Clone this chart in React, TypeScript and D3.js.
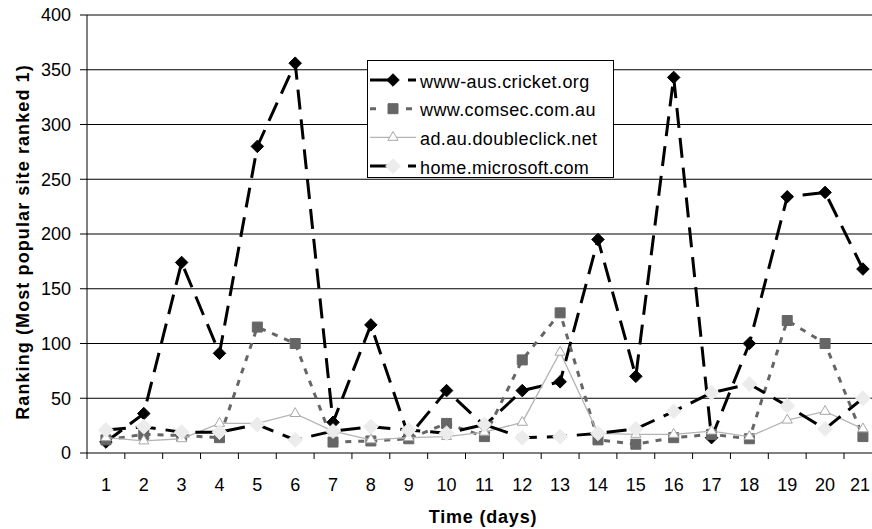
import { useRef, useEffect } from 'react'
import * as d3 from 'd3'

const days = d3.range(1, 22).map(String)

const cricket = [10, 36, 174, 91, 280, 356, 28, 117, 15, 57, 25, 57, 65, 195, 70, 343, 14, 100, 234, 238, 168]
const comsec = [12, 17, 16, 14, 115, 100, 10, 11, 13, 27, 15, 85, 128, 12, 8, 14, 17, 13, 121, 100, 15]
const doubleclick = [14, 11, 13, 27, 27, 36, 20, 12, 14, 15, 19, 28, 92, 18, 17, 17, 20, 15, 30, 38, 22]
const microsoft = [21, 24, 19, 19, 26, 12, 20, 24, 21, 18, 26, 14, 15, 18, 22, 38, 55, 63, 43, 22, 50]

const seriesNames = ['www-aus.cricket.org', 'www.comsec.com.au', 'ad.au.doubleclick.net', 'home.microsoft.com']
const yTicks = [0, 50, 100, 150, 200, 250, 300, 350, 400]

type Style = {
  stroke: string
  width: number
  dash: string
  marker: 'diamond' | 'square' | 'triangle'
  markerFill: string
  markerStroke: string
  markerSize: number
}

const styles: Style[] = [
  { stroke: '#000', width: 3, dash: '20,10', marker: 'diamond', markerFill: '#000', markerStroke: '#000', markerSize: 100 },
  { stroke: '#666', width: 3, dash: '6,7', marker: 'square', markerFill: '#666', markerStroke: '#666', markerSize: 100 },
  { stroke: '#b4b4b4', width: 1.3, dash: '', marker: 'triangle', markerFill: '#fff', markerStroke: '#a8a8a8', markerSize: 45 },
  { stroke: '#000', width: 3, dash: '20,10', marker: 'diamond', markerFill: '#ececec', markerStroke: '#ececec', markerSize: 140 },
]

const symbolType = (m: Style['marker']) =>
  m === 'diamond' ? d3.symbolDiamond2 : m === 'square' ? d3.symbolSquare : d3.symbolTriangle

export default function App() {
  const svgRef = useRef<SVGSVGElement>(null)

  useEffect(() => {
    if (!svgRef.current) return
    const svg = d3.select(svgRef.current)
    svg.selectAll('*').remove()

    const width = 872
    const height = 529
    const left = 87
    const step = 37.85
    const font = 'Liberation Sans, Arial, sans-serif'

    svg.attr('width', width).attr('height', height)

    const x = d3.scaleBand().domain(days).range([left, left + step * days.length])
    const y = d3.scaleLinear().domain([0, 400]).range([453, 15])
    const cx = (d: string) => (x(d) || 0) + x.bandwidth() / 2

    // grid
    svg.append('g')
      .selectAll('line')
      .data(yTicks.filter(t => t > 0))
      .join('line')
      .attr('x1', left)
      .attr('x2', width)
      .attr('y1', d => y(d))
      .attr('y2', d => y(d))
      .attr('stroke', '#000')
      .attr('stroke-width', 1)

    // y axis
    svg.append('line')
      .attr('x1', left).attr('x2', left)
      .attr('y1', y(400)).attr('y2', y(0))
      .attr('stroke', '#000')
    svg.append('g')
      .selectAll('line')
      .data(yTicks)
      .join('line')
      .attr('x1', left - 7).attr('x2', left)
      .attr('y1', d => y(d)).attr('y2', d => y(d))
      .attr('stroke', '#000')
    svg.append('g')
      .selectAll('text')
      .data(yTicks)
      .join('text')
      .attr('x', 71)
      .attr('y', d => y(d))
      .attr('dy', '0.35em')
      .attr('text-anchor', 'end')
      .attr('font-family', font)
      .attr('font-size', 18)
      .text(d => d)

    // x axis
    svg.append('line')
      .attr('x1', left).attr('x2', width)
      .attr('y1', y(0)).attr('y2', y(0))
      .attr('stroke', '#000')
    svg.append('g')
      .selectAll('line')
      .data(days)
      .join('line')
      .attr('x1', d => x(d) || 0).attr('x2', d => x(d) || 0)
      .attr('y1', y(0)).attr('y2', y(0) + 6)
      .attr('stroke', '#000')
    svg.append('g')
      .selectAll('text')
      .data(days)
      .join('text')
      .attr('x', d => Math.min(cx(d), 860))
      .attr('y', 491)
      .attr('text-anchor', 'middle')
      .attr('font-family', font)
      .attr('font-size', 18)
      .text(d => d)

    svg.append('text')
      .attr('x', 483)
      .attr('y', 523)
      .attr('text-anchor', 'middle')
      .attr('font-family', font)
      .attr('font-size', 18)
      .attr('font-weight', 'bold')
      .attr('letter-spacing', 0.8)
      .text('Time (days)')

    svg.append('text')
      .attr('transform', 'translate(29,242) rotate(-90)')
      .attr('text-anchor', 'middle')
      .attr('font-family', font)
      .attr('font-size', 18)
      .attr('font-weight', 'bold')
      .attr('letter-spacing', 1.1)
      .text('Ranking (Most popular site ranked 1)')

    const allSeries = [cricket, comsec, doubleclick, microsoft]

    allSeries.forEach((values, i) => {
      const st = styles[i]
      const line = d3.line<number>()
        .x((_, j) => cx(days[j]))
        .y(v => y(v))
      const g = svg.append('g')
      g.append('path')
        .datum(values)
        .attr('d', line)
        .attr('fill', 'none')
        .attr('stroke', st.stroke)
        .attr('stroke-width', st.width)
        .attr('stroke-dasharray', st.dash || null)
      g.selectAll('path.m')
        .data(values)
        .join('path')
        .attr('class', 'm')
        .attr('d', d3.symbol().type(symbolType(st.marker)).size(st.markerSize)())
        .attr('transform', (v, j) => `translate(${cx(days[j])},${y(v)})`)
        .attr('fill', st.markerFill)
        .attr('stroke', st.markerStroke)
        .attr('stroke-width', 1)
    })

    // legend
    const lg = svg.append('g')
    lg.append('rect')
      .attr('x', 367.5).attr('y', 60.5)
      .attr('width', 246).attr('height', 117)
      .attr('fill', '#fff')
      .attr('stroke', '#000')
    seriesNames.forEach((name, i) => {
      const st = styles[i]
      const ly = 80 + i * 28.7
      lg.append('line')
        .attr('x1', 370).attr('x2', 416)
        .attr('y1', ly).attr('y2', ly)
        .attr('stroke', st.stroke)
        .attr('stroke-width', st.width)
        .attr('stroke-dasharray', i === 2 ? null : (i === 1 ? '6,12' : '24,14'))
      lg.append('path')
        .attr('d', d3.symbol().type(symbolType(st.marker)).size(st.markerSize)())
        .attr('transform', `translate(393,${ly})`)
        .attr('fill', st.markerFill)
        .attr('stroke', st.markerStroke)
      lg.append('text')
        .attr('x', 420)
        .attr('y', ly)
        .attr('dy', '0.42em')
        .attr('font-family', font)
        .attr('font-size', 18)
        .attr('letter-spacing', 0.4)
        .text(name)
    })
  }, [])

  return (
    <div style={{ position: 'absolute', left: 0, top: 0 }}>
      <svg ref={svgRef} style={{ display: 'block' }} />
    </div>
  )
}
